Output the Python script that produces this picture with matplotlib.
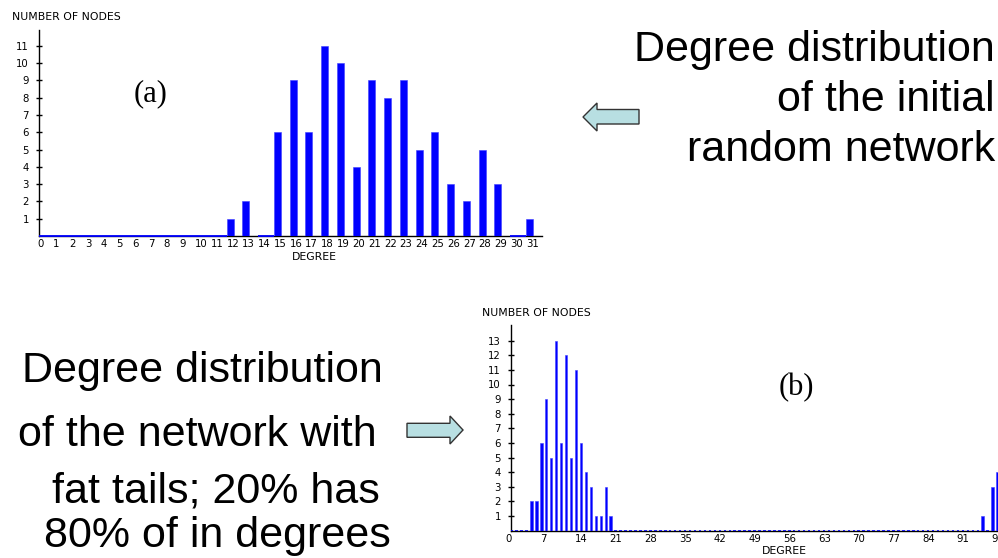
import matplotlib
matplotlib.use("Agg")
import matplotlib.pyplot as plt
from matplotlib.patches import Polygon

# ---------------- data ----------------
degrees_a = list(range(0, 32))
counts_a = [0, 0, 0, 0, 0, 0, 0, 0, 0, 0, 0, 0, 1, 2, 0, 6,
            9, 6, 11, 10, 4, 9, 8, 9, 5, 6, 3, 2, 5, 3, 0, 1]
yticks_a = list(range(1, 12))

degrees_b = [5, 6, 7, 8, 9, 10, 11, 12, 13, 14, 15, 16, 17, 18, 19, 20, 21, 96, 98, 99]
counts_b = [2, 2, 6, 9, 5, 13, 6, 12, 5, 11, 6, 4, 3, 1, 1, 3, 1, 1, 3, 4]
xticks_b = list(range(0, 99, 7))
yticks_b = list(range(1, 14))

W, H = 998, 558
fig = plt.figure(figsize=(W / 100, H / 100), dpi=100)
fig.patch.set_facecolor("white")


def fx(x):
    return x / W


def fy(y):
    return 1 - y / H


BLUE = "#0000ff"
SMALL = "DejaVu Sans"


def style_axes(ax, spine_x, xmax):
    for s in ("top", "right"):
        ax.spines[s].set_visible(False)
    ax.spines["left"].set_position(("data", spine_x))
    ax.spines["bottom"].set_bounds(spine_x, xmax)
    for s in ("left", "bottom"):
        ax.spines[s].set_color("black")
        ax.spines[s].set_linewidth(1.0)
    ax.set_facecolor("none")


# ---------------- chart (a) ----------------
a_left, a_right, a_bottom, a_top = 37.5, 541.5, 236, 30
axa = fig.add_axes([fx(a_left), fy(a_bottom), fx(a_right - a_left), (a_bottom - a_top) / H])
axa.set_xlim(0, 32.0)
axa.set_ylim(0, (a_bottom - a_top) / 17.3)
nz_a = [(d, c) for d, c in zip(degrees_a, counts_a) if c > 0]
axa.bar([d for d, _ in nz_a], [c for _, c in nz_a], width=0.46, align="edge",
        color=BLUE, edgecolor="#4040ff", linewidth=0.4, zorder=3)
zero_a = [d for d, c in zip(degrees_a, counts_a) if c == 0]
axa.hlines([0] * len(zero_a), [max(d, 0.12) for d in zero_a], [d + 1 for d in zero_a],
           colors=BLUE, linewidth=1.3, zorder=4, clip_on=False)
style_axes(axa, 0.12, 32.0)
axa.set_xticks(degrees_a)
axa.set_xticklabels([str(d) for d in degrees_a], ha="left", fontsize=7.3, family=SMALL)
axa.tick_params(axis="x", length=0, pad=2.5)
axa.set_yticks(yticks_a)
axa.set_yticklabels([str(v) for v in yticks_a], fontsize=7.3, family=SMALL)
axa.tick_params(axis="y", direction="inout", length=5, width=1, pad=5)
fig.text(fx(11.7), fy(17.5), "NUMBER OF NODES", fontsize=7.8, family=SMALL,
         ha="left", va="center")
fig.text(fx(314), fy(256.7), "DEGREE", fontsize=7.8, family=SMALL, ha="center", va="center")
fig.text(fx(150.5), fy(101), "(a)", fontsize=22, family="Liberation Serif",
         ha="center", va="baseline")

# ---------------- chart (b) ----------------
b_left, b_scale, b_bottom, b_top = 505.3, 4.96, 530.6, 325
b_xmax = 100
axb = fig.add_axes([fx(b_left), fy(b_bottom), fx(b_xmax * b_scale), (b_bottom - b_top) / H])
axb.set_xlim(0, b_xmax)
axb.set_ylim(0, (b_bottom - b_top) / 14.61)
axb.bar(degrees_b, counts_b, width=0.5, align="edge", color=BLUE,
        edgecolor="#4040ff", linewidth=0.4, zorder=3)
zero_b = [d for d in range(1, 100) if d not in degrees_b]
axb.hlines([0] * len(zero_b), [max(d, 1.09) for d in zero_b], [d + 0.5 for d in zero_b],
           colors=BLUE, linewidth=1.2, zorder=4)
style_axes(axb, 1.09, b_xmax)
axb.set_xticks(xticks_b)
axb.set_xticklabels([str(d) for d in xticks_b], ha="left", fontsize=7.3, family=SMALL)
axb.tick_params(axis="x", length=0, pad=2.5)
axb.set_yticks(yticks_b)
axb.set_yticklabels([str(v) for v in yticks_b], fontsize=7.3, family=SMALL)
axb.tick_params(axis="y", direction="inout", length=5, width=1, pad=4.5)
fig.text(fx(482.3), fy(313.3), "NUMBER OF NODES", fontsize=7.8, family=SMALL,
         ha="left", va="center")
fig.text(fx(784), fy(551.3), "DEGREE", fontsize=7.8, family=SMALL, ha="center", va="center")
fig.text(fx(796.5), fy(395), "(b)", fontsize=22, family="Liberation Serif",
         ha="center", va="baseline")

# ---------------- big captions ----------------
BIG = "Liberation Sans"
right_lines = ["Degree distribution", "of the initial", "random network"]
for i, line in enumerate(right_lines):
    fig.text(fx(995), fy(61 + 50 * i), line, fontsize=31, family=BIG,
             ha="right", va="baseline")

left_lines = ["Degree distribution", "of the network with", "fat tails; 20% has", "80% of in degrees"]
left_x = [22, 18, 52, 44]
left_y = [382, 446, 503, 547]
for line, x, y in zip(left_lines, left_x, left_y):
    fig.text(fx(x), fy(y), line, fontsize=31, family=BIG, ha="left", va="baseline")

# ---------------- arrows ----------------
ARROW_FILL = "#b8dfe2"
ARROW_EDGE = "#333333"
left_arrow = [(583, 117), (597, 103), (597, 109.5), (639, 109.5), (639, 124),
              (597, 124), (597, 131)]
right_arrow = [(407, 423.3), (450, 423.3), (450, 416), (463, 430), (450, 444),
               (450, 437.3), (407, 437.3)]
for pts in (left_arrow, right_arrow):
    fig.patches.append(Polygon([(fx(x), fy(y)) for x, y in pts], closed=True,
                               transform=fig.transFigure, facecolor=ARROW_FILL,
                               edgecolor=ARROW_EDGE, linewidth=1.0))

fig.savefig("out.png", dpi=100)
